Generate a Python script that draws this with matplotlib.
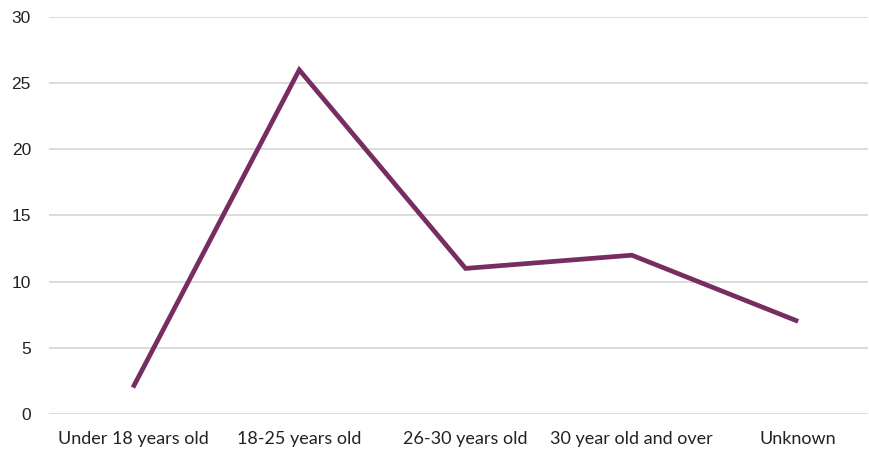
import matplotlib
matplotlib.use("Agg")
import matplotlib.pyplot as plt

categories = ["Under 18 years old", "18-25 years old", "26-30 years old",
              "30 year old and over", "Unknown"]
values = [2, 26, 11, 12, 7]
y_ticks = [0, 5, 10, 15, 20, 25, 30]

fig = plt.figure(figsize=(8.7, 4.57), dpi=100)
ax = fig.add_axes([0.0563, 0.0941, 0.9414, 0.8687])

x = list(range(len(categories)))
ax.plot(x, values, color="#772D62", linewidth=3.4, solid_capstyle="butt",
        solid_joinstyle="miter", zorder=3)

ax.set_xlim(-0.505, 4.42)
ax.set_ylim(0, 30)
ax.set_yticks(y_ticks)
ax.set_yticklabels([str(t) for t in y_ticks], fontfamily="Liberation Sans",
                   fontsize=12.5, color="#222222")
ax.set_xticks(x)
ax.set_xticklabels(categories, fontfamily="Lato", fontsize=13, color="#222222")

ax.grid(axis="y", color="#D9D9D9", linewidth=1.3)
ax.set_axisbelow(True)
for s in ax.spines.values():
    s.set_visible(False)
ax.tick_params(axis="both", length=0)
ax.tick_params(axis="y", pad=13)
ax.tick_params(axis="x", pad=12)

fig.savefig("out.png", dpi=100)
